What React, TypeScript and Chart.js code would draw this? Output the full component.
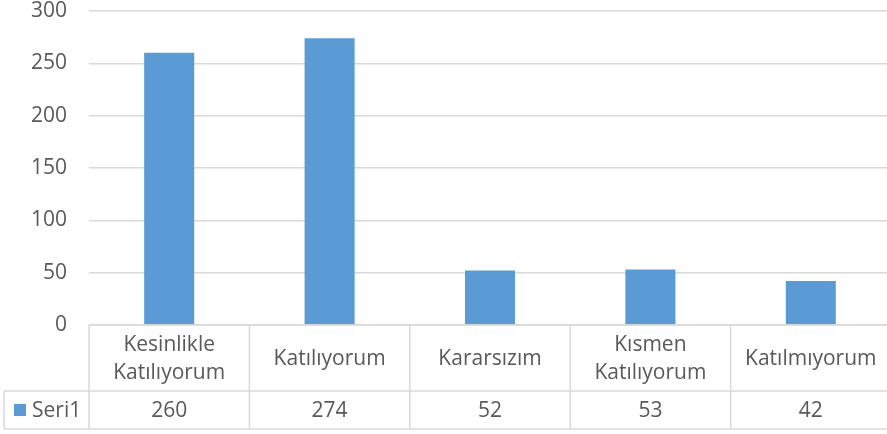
import React, { useEffect, useRef } from 'react';
import { Chart, registerables } from 'chart.js';

Chart.register(...registerables);

const categories: string[][] = [
  ['Kesinlikle', 'Katılıyorum'],
  ['Katılıyorum'],
  ['Kararsızım'],
  ['Kısmen', 'Katılıyorum'],
  ['Katılmıyorum'],
];
const seriesName = 'Seri1';
const values: number[] = [260, 274, 52, 53, 42];
const yMin = 0;
const yMax = 300;
const yStep = 50;

const FONT_FAMILY = '"Open Sans", sans-serif';
const FONT_SIZE = 21;
const TEXT_COLOR = '#595959';
const GRID_COLOR = '#D9D9D9';
const BAR_COLOR = '#5B9BD5';

const tablePlugin = {
  id: 'dataTable',
  afterDraw(chart: any) {
    const { ctx, chartArea, scales } = chart;
    const x = scales.x;
    const top = chartArea.bottom;
    const row1Bottom = top + 66;
    const row2Bottom = top + 104;
    const tableLeft = 4;
    const right = chart.width;
    const step = x.getPixelForValue(1) - x.getPixelForValue(0);
    const capH = FONT_SIZE * 0.714;

    ctx.save();
    ctx.strokeStyle = GRID_COLOR;
    ctx.lineWidth = 1.5;
    const hline = (y: number, x0: number, x1: number) => {
      ctx.beginPath();
      ctx.moveTo(x0, y);
      ctx.lineTo(x1, y);
      ctx.stroke();
    };
    const vline = (xx: number, y0: number, y1: number) => {
      ctx.beginPath();
      ctx.moveTo(xx, y0);
      ctx.lineTo(xx, y1);
      ctx.stroke();
    };
    hline(top, chartArea.left, right);
    hline(row1Bottom, tableLeft, right);
    hline(row2Bottom, tableLeft, right);
    vline(tableLeft, row1Bottom, row2Bottom);
    for (let i = 0; i <= categories.length; i++) {
      const bx = x.getPixelForValue(0) - step / 2 + i * step;
      vline(bx, top, row2Bottom);
    }

    ctx.fillStyle = TEXT_COLOR;
    ctx.font = `${FONT_SIZE}px ${FONT_FAMILY}`;
    ctx.textAlign = 'center';
    ctx.textBaseline = 'alphabetic';
    const row1Mid = (top + row1Bottom) / 2;
    const row2Mid = (row1Bottom + row2Bottom) / 2;
    const lineGap = 28;
    categories.forEach((lines, i) => {
      const cx = x.getPixelForValue(i);
      const n = lines.length;
      lines.forEach((ln, j) => {
        const cy = row1Mid + (j - (n - 1) / 2) * lineGap;
        ctx.fillText(ln, cx, cy + capH / 2);
      });
      ctx.fillText(String(values[i]), cx, row2Mid + capH / 2);
    });

    // legend key
    ctx.fillStyle = BAR_COLOR;
    ctx.fillRect(14, row2Mid - 6, 12, 12);
    ctx.fillStyle = TEXT_COLOR;
    ctx.textAlign = 'left';
    ctx.fillText(seriesName, 32, row2Mid + capH / 2);
    ctx.restore();
  },
};

export default function App() {
  const ref = useRef<HTMLCanvasElement | null>(null);
  useEffect(() => {
    if (!ref.current) return;
    const chart = new Chart(ref.current, {
      type: 'bar',
      data: {
        labels: categories.map((c) => c.join(' ')),
        datasets: [
          {
            label: seriesName,
            data: values,
            backgroundColor: BAR_COLOR,
            borderWidth: 0,
            categoryPercentage: 1,
            barPercentage: 0.312,
          },
        ],
      },
      options: {
        animation: false,
        responsive: false,
        devicePixelRatio: 1,
        layout: { padding: { top: 11, left: 0, right: 0, bottom: 0 } },
        plugins: {
          legend: { display: false },
          tooltip: { enabled: false },
          title: { display: false },
        },
        scales: {
          x: {
            ticks: { display: false },
            grid: { display: false },
            border: { display: false },
            afterFit: (s: any) => {
              s.height = 109;
              s.paddingLeft = 0;
              s.paddingRight = 0;
            },
          },
          y: {
            min: yMin,
            max: yMax,
            ticks: {
              stepSize: yStep,
              color: TEXT_COLOR,
              font: { family: FONT_FAMILY, size: FONT_SIZE },
              padding: 22,
            },
            grid: { color: GRID_COLOR, lineWidth: 1.5, drawTicks: false },
            border: { display: false },
            afterFit: (s: any) => {
              s.width = 89;
              s.paddingTop = 0;
              s.paddingBottom = 0;
            },
          },
        },
      },
      plugins: [tablePlugin],
    });
    return () => chart.destroy();
  }, []);
  return (
    <div
      style={{
        position: 'absolute',
        left: 0,
        top: 0,
        width: 887,
        height: 434,
        overflow: 'hidden',
        background: '#fff',
      }}
    >
      <canvas ref={ref} width={891} height={434} style={{ display: 'block', width: 891, height: 434 }} />
    </div>
  );
}
